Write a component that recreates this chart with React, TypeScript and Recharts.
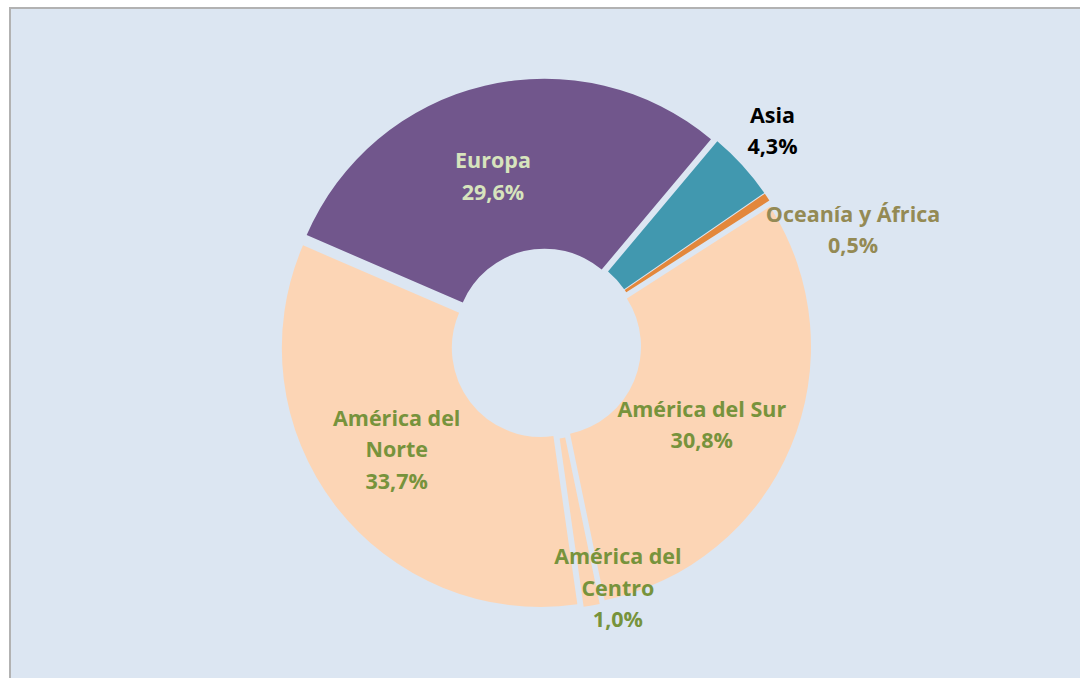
import React from "react";
import { PieChart, Pie, Cell, Sector } from "recharts";

const categories = ["Asia", "Oceanía y África", "América del Sur", "América del Centro", "América del Norte", "Europa"];
const shares = [4.3, 0.5, 30.8, 1.0, 33.7, 29.6];
const valueLabels = ["4,3%", "0,5%", "30,8%", "1,0%", "33,7%", "29,6%"];
const labelLines: string[][] = [["Asia"], ["Oceanía y África"], ["América del Sur"], ["América del", "Centro"], ["América del", "Norte"], ["Europa"]];

const sliceColors = ["#4198AF", "#E3873B", "#FCD5B5", "#FCD5B5", "#FCD5B5", "#71568C"];
const textColors = ["#000000", "#948A54", "#77933C", "#77933C", "#77933C", "#D7E4BD"];
// label placement for each slice: radial distance (px) and angle shift (deg, counter-clockwise)
const labelRadius = [312, 328, 175, 253, 182, 177];
const labelAngleShift = [1.2, -13, -4.3, 6.6, -2.5, 4.1];

const data = categories.map((name, i) => ({ name, value: shares[i] }));

const EXPLODE = 6.5;
const RAD = Math.PI / 180;

const ExplodedSector = (props: any) => {
  const { cx, cy, midAngle } = props;
  const dx = EXPLODE * Math.cos(-midAngle * RAD);
  const dy = EXPLODE * Math.sin(-midAngle * RAD);
  return <Sector {...props} cx={cx + dx} cy={cy + dy} />;
};

const renderLabel = (props: any) => {
  const { cx, cy, midAngle, index } = props;
  const a = (midAngle + labelAngleShift[index]) * RAD;
  const r = labelRadius[index];
  const x = cx + r * Math.cos(-a);
  const y = cy + r * Math.sin(-a);
  const lines = [...labelLines[index], valueLabels[index]];
  const lh = 31.5;
  const y0 = y - ((lines.length - 1) * lh) / 2;
  return (
    <text
      x={x}
      y={y0}
      textAnchor="middle"
      dominantBaseline="central"
      fill={textColors[index]}
      fontFamily="'Open Sans', sans-serif"
      fontWeight={700}
      fontSize={21.5}
    >
      {lines.map((l, k) => (
        <tspan key={k} x={x} y={y0 + k * lh}>
          {l}
        </tspan>
      ))}
    </text>
  );
};

export default function App() {
  return (
    <div
      style={{
        position: "absolute",
        left: 9,
        top: 7,
        width: 1090,
        height: 690,
        background: "#DCE6F2",
        border: "2px solid #B2B2B2",
        boxSizing: "border-box",
      }}
    >
      <PieChart
        width={1080}
        height={680}
        margin={{ top: 0, right: 0, bottom: 0, left: 0 }}
        style={{ position: "absolute", left: 0, top: 0 }}
      >
        <Pie
          data={data}
          dataKey="value"
          nameKey="name"
          cx={535}
          cy={335}
          innerRadius={89}
          outerRadius={259}
          startAngle={50}
          endAngle={-310}
          stroke="none"
          isAnimationActive={false}
          labelLine={false}
          label={renderLabel}
          shape={ExplodedSector}
        >
          {data.map((d, i) => (
            <Cell key={d.name} fill={sliceColors[i]} />
          ))}
        </Pie>
      </PieChart>
    </div>
  );
}
